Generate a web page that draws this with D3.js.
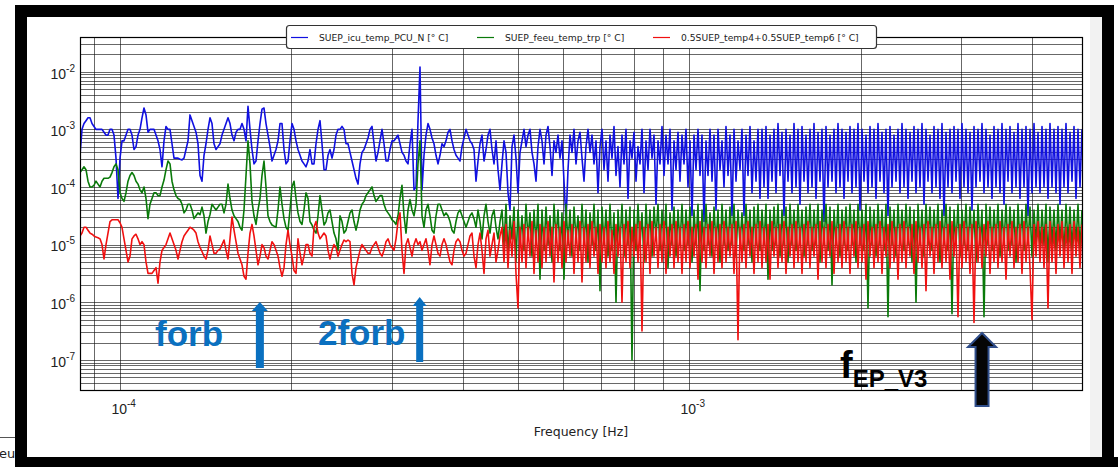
<!DOCTYPE html>
<html>
<head>
<meta charset="utf-8">
<title>Temperature PSD</title>
<style>
  html, body { margin: 0; padding: 0; background: #fff; }
  svg { display: block; }
</style>
</head>
<body>
<div id="chart"></div>
<script src="https://cdn.jsdelivr.net/npm/d3@7/dist/d3.min.js"></script>
<script>
(function(d3) {
  'use strict';

  // frequency bins (Hz): log spaced over the plotted band
  var fMin = 8.5e-5, fMax = 4.9e-3, nBins = 502;

  var seriesNames = ['SUEP_icu_temp_PCU_N [\u00b0 C]', 'SUEP_feeu_temp_trp [\u00b0 C]',
    '0.5SUEP_temp4+0.5SUEP_temp6 [\u00b0 C]'];
  var seriesColors = ['#1010e0', '#0a7a0a', '#f01010'];

  // log10 of the PSD, one value per bin
  var icuPCU = [
    -3.45,-3.0,-2.9,-2.85,-2.8,-2.8,-2.9,-2.95,-3.0,-3.0,
    -3.0,-3.0,-3.05,-3.1,-3.1,-3.0,-3.0,-3.1,-3.5,-4.2,
    -3.5,-3.2,-3.2,-3.1,-3.0,-3.0,-3.1,-3.35,-3.3,-3.1,
    -3.0,-2.8,-2.63,-2.75,-3.05,-3.0,-3.0,-3.0,-3.1,-3.2,
    -3.35,-3.65,-3.2,-2.95,-3.0,-3.0,-3.25,-3.5,-3.5,-3.5,
    -3.52,-3.53,-3.5,-3.35,-3.2,-2.75,-2.85,-2.95,-3.05,-3.25,
    -3.8,-3.9,-3.45,-3.25,-3.0,-2.8,-2.9,-3.25,-3.35,-3.3,
    -3.25,-3.1,-3.0,-2.9,-2.8,-2.9,-3.1,-3.2,-3.05,-3.0,
    -3.0,-2.9,-3.0,-3.2,-2.6,-3.0,-3.35,-3.6,-3.55,-3.2,
    -2.9,-2.65,-2.63,-2.9,-3.1,-3.3,-3.55,-3.45,-3.35,-3.2,
    -2.9,-2.9,-3.35,-3.6,-3.55,-3.2,-2.9,-3.0,-3.2,-3.35,
    -3.45,-3.55,-3.6,-3.65,-3.55,-3.35,-3.6,-3.6,-3.25,-3.0,
    -2.85,-3.25,-3.7,-3.7,-3.45,-3.35,-3.5,-3.35,-3.1,-3.0,
    -3.0,-2.95,-3.0,-3.25,-3.25,-3.4,-3.55,-3.7,-3.85,-3.95,
    -3.6,-3.4,-3.35,-3.25,-3.15,-3.0,-2.95,-3.25,-3.55,-3.4,
    -3.2,-3.0,-3.25,-3.55,-3.55,-3.35,-3.2,-3.2,-3.15,-3.1,
    -3.25,-3.4,-3.45,-3.55,-3.6,-3.25,-3.0,-4.05,-4.0,-2.85,
    -1.92,-4.05,-3.45,-3.1,-2.9,-3.0,-3.15,-3.25,-3.45,-3.6,
    -3.45,-3.25,-3.3,-3.2,-3.05,-3.0,-3.2,-3.35,-3.45,-3.5,
    -3.55,-3.3,-3.15,-3.0,-3.1,-3.2,-3.25,-3.35,-3.9,-3.55,
    -3.25,-3.1,-3.55,-3.35,-3.1,-3.0,-3.35,-3.6,-3.2,-3.7,
    -4.05,
    -3.6,-3.2,-3.4,-4.1,-4.4,-3.3,-3.1,-3.5,-4.1,-3.4,
    -3.2,-3.0,-3.3,-3.1,-3.0,-3.4,-3.6,-3.9,-3.3,-3.0,
    -3.2,-3.6,-3.1,-2.95,-3.3,-3.8,-3.2,-3.4,-3.1,-3.5,
    -3.2,-3.9,-4.6,-3.7,-3.1,-3.4,-3.0,-3.6,-3.2,-3.05,
    -3.5,-3.9,-3.3,-3.0,-3.4,-3.1,-3.6,-3.2,-4.1,-3.3,
    -3.0,-3.7,-3.2,-3.9,-3.1,-3.5,-2.95,-3.8,-3.3,-4.0,
    -3.1,-3.6,-3.0,-4.2,-3.2,-3.5,-3.05,-3.9,-3.3,-3.6,
    -3.0,-4.1,-3.2,-3.7,-3.0,-3.5,-3.1,-4.3,-3.2,-3.6,
    -2.95,-3.8,-3.1,-3.6,-3.0,-4.4,-3.2,-3.7,-3.05,-3.9,
    -3.1,-3.6,-3.0,-4.0,-3.2,-4.5,-3.1,-3.7,-3.0,-3.8,
    -3.1,-4.6,-3.2,-3.8,-3.0,-3.9,-3.1,-4.4,-3.0,-3.7,
    -3.2,-4.0,-2.95,-3.8,-3.1,-4.5,-3.0,-3.9,-3.2,-3.7,
    -3.0,-4.5,-3.1,-3.8,-2.95,-4.1,-3.2,-3.9,-3.0,-4.2,
    -3.0,-4.0,-2.95,-4.2,-3.1,-3.9,-3.0,-4.1,-2.9,-3.8,
    -3.05,-4.5,-3.0,-3.9,-3.1,-4.1,-2.9,-4.0,-3.0,-4.3,
    -2.95,-3.9,-3.1,-4.1,-3.0,-4.0,-2.9,-4.2,-3.05,-3.9,
    -3.0,-4.6,-2.95,-4.0,-3.1,-3.9,-3.0,-4.1,-2.9,-4.0,
    -3.0,-4.2,-3.05,-3.9,-2.95,-4.1,-3.0,-4.0,-2.9,-4.4,
    -3.0,-3.9,-3.1,-4.1,-2.95,-4.0,-3.0,-4.2,-2.9,-3.9,
    -3.05,-4.1,-3.0,-4.5,-2.95,-4.0,-3.1,-3.9,-3.0,-4.1,
    -2.9,-4.0,-3.0,-4.2,-3.05,-3.9,-2.95,-4.1,-3.0,-4.0,
    -2.9,-4.3,-3.0,-3.9,-3.1,-4.1,-2.95,-4.0,-3.0,-4.2,
    -2.9,-4.5,-3.05,-4.0,-3.0,-4.1,-2.95,-3.9,-3.0,-4.2,
    -2.9,-4.0,-3.0,-4.1,-3.05,-4.4,-2.95,-4.0,-3.0,-3.9,
    -2.9,-4.1,-3.0,-4.0,-3.1,-4.2,-2.95,-4.0,-3.0,-4.1,
    -2.9,-4.3,-3.0,-3.9,-2.95,-4.1,-3.05,-4.0,-2.9,-4.2,
    -3.0,-4.0,-2.95,-4.5,-3.0,-4.1,-2.9,-4.0,-3.05,-4.1,
    -2.95,-4.0,-3.0,-4.2,-2.9,-4.0,-3.0,-4.1,-2.95,-4.3,
    -3.0,-4.0,-2.9,-4.1,-3.05,-3.9,-2.95,-4.2,-3.0,-4.0,
    -3.0
  ];

  var feeuTrp = [
    -3.75,-3.7,-3.65,-3.7,-3.9,-4.0,-4.0,-3.97,-3.9,-3.95,
    -4.0,-3.9,-3.85,-3.85,-3.85,-3.83,-3.75,-3.65,-3.6,-3.7,
    -4.1,-4.2,-4.25,-4.1,-3.9,-3.8,-3.75,-3.8,-3.9,-3.95,
    -4.05,-4.1,-4.0,-4.2,-4.55,-4.3,-4.2,-4.1,-4.1,-4.15,
    -4.15,-4.0,-3.88,-3.7,-3.55,-3.6,-3.9,-4.05,-4.15,-4.2,
    -4.22,-4.3,-4.45,-4.4,-4.3,-4.3,-4.4,-4.55,-4.5,-4.45,
    -4.48,-4.35,-4.5,-4.8,-4.6,-4.48,-4.3,-4.35,-4.4,-4.35,
    -4.3,-4.3,-4.45,-4.3,-3.95,-4.2,-4.4,-4.5,-4.55,-4.6,
    -4.7,-4.75,-4.4,-3.8,-3.2,-3.6,-4.25,-4.5,-4.65,-4.4,
    -4.2,-3.8,-3.55,-4.0,-4.5,-4.6,-4.66,-4.68,-4.7,-4.4,
    -4.0,-4.3,-4.55,-4.7,-4.75,-4.4,-4.0,-3.9,-4.2,-4.45,
    -4.6,-4.65,-4.4,-4.1,-4.2,-4.6,-4.66,-4.75,-4.8,-4.5,
    -4.15,-4.4,-4.66,-4.6,-4.45,-4.4,-4.6,-4.8,-4.9,-5.1,
    -4.5,-4.6,-4.8,-4.75,-4.6,-4.45,-4.4,-4.6,-4.75,-4.6,
    -4.4,-4.3,-4.25,-4.15,-4.1,-4.05,-4.0,-4.15,-4.25,-4.2,
    -4.15,-4.15,-4.3,-4.4,-4.45,-4.5,-4.57,-4.6,-4.65,-4.5,
    -4.2,-3.97,-4.5,-4.8,-4.4,-4.22,-4.4,-4.5,-4.3,-3.6,
    -3.2,-4.5,-4.7,-4.4,-4.3,-4.5,-4.75,-4.8,-4.5,-4.3,
    -4.3,-4.4,-4.5,-4.45,-4.5,-4.6,-4.75,-4.8,-4.6,-4.45,
    -4.4,-4.5,-4.6,-4.7,-4.6,-4.5,-4.45,-4.55,-4.7,-4.4,
    -4.6,-4.9,-4.5,-4.3,-4.6,-4.8,-4.5,-4.4,-4.7,-4.9,
    -4.6,
    -4.4,-5.0,-4.3,-5.2,-4.5,-4.9,-4.35,-5.3,-4.4,-5.0,
    -4.5,-5.1,-4.3,-4.9,-4.45,-5.2,-4.4,-5.0,-4.3,-5.6,
    -4.4,-5.1,-4.35,-5.0,-4.5,-5.3,-4.3,-4.9,-4.4,-5.1,
    -4.45,-5.6,-4.3,-5.0,-4.4,-5.2,-4.35,-4.9,-4.5,-5.1,
    -4.3,-5.0,-4.4,-5.3,-4.45,-5.0,-4.3,-5.1,-4.4,-5.8,
    -4.35,-5.0,-4.4,-5.2,-4.3,-5.1,-4.45,-6.0,-4.4,-5.0,
    -4.3,-5.2,-4.4,-5.0,-4.35,-7.0,-4.4,-5.1,-4.3,-5.0,
    -4.45,-5.3,-4.3,-5.0,-4.4,-5.2,-4.35,-4.9,-4.3,-5.1,
    -4.4,-5.0,-4.3,-5.4,-4.45,-5.0,-4.35,-5.2,-4.4,-5.0,
    -4.3,-5.1,-4.4,-5.0,-4.35,-5.3,-4.4,-5.0,-4.3,-5.8,
    -4.4,-5.1,-4.3,-5.0,-4.45,-5.2,-4.35,-5.0,-4.4,-5.3,
    -4.3,-5.0,-4.4,-5.1,-4.35,-5.0,-4.3,-5.2,-4.4,-5.0,
    -4.45,-5.1,-4.3,-5.0,-4.4,-5.3,-4.35,-5.0,-4.3,-5.1,
    -4.4,-5.0,-4.3,-5.6,-4.4,-5.1,-4.35,-5.0,-4.3,-5.2,
    -4.4,-5.0,-4.35,-5.3,-4.3,-5.0,-4.4,-5.1,-4.3,-5.0,
    -4.4,-5.2,-4.35,-5.0,-4.3,-5.1,-4.4,-5.0,-4.3,-5.3,
    -4.4,-5.0,-4.3,-5.1,-4.35,-5.7,-4.4,-5.0,-4.3,-5.2,
    -4.4,-5.0,-4.35,-5.1,-4.3,-5.0,-4.4,-5.3,-4.3,-5.0,
    -4.4,-5.1,-4.3,-6.1,-4.35,-5.0,-4.4,-5.2,-4.3,-5.0,
    -4.4,-5.1,-4.3,-6.25,-4.35,-5.0,-4.4,-5.2,-4.3,-5.0,
    -4.4,-5.1,-4.3,-5.0,-4.35,-5.3,-4.4,-6.0,-4.3,-5.0,
    -4.4,-5.2,-4.3,-5.0,-4.35,-5.1,-4.4,-5.0,-4.3,-5.3,
    -4.4,-5.0,-4.3,-5.1,-4.35,-6.2,-4.4,-5.0,-4.3,-5.2,
    -4.4,-5.0,-4.3,-5.1,-4.35,-5.0,-4.4,-5.3,-4.3,-5.0,
    -4.4,-6.25,-4.3,-5.0,-4.35,-5.1,-4.4,-5.0,-4.3,-5.2,
    -4.4,-5.0,-4.3,-5.1,-4.35,-5.0,-4.4,-5.3,-4.3,-5.0,
    -4.4,-5.1,-4.3,-5.0,-4.35,-5.2,-4.4,-5.0,-4.3,-5.1,
    -4.4,-5.0,-4.3,-5.3,-4.35,-5.0,-4.4,-5.1,-4.3,-5.0,
    -4.4,-5.2,-4.3,-5.0,-4.35,-5.1,-4.4,-5.0,-4.3,-5.1,
    -4.4
  ];

  var temp46 = [
    -4.85,-4.8,-4.7,-4.7,-4.75,-4.8,-4.82,-4.85,-4.87,-4.88,
    -4.9,-5.0,-5.25,-5.0,-4.8,-4.6,-4.57,-4.57,-4.57,-4.57,
    -4.62,-4.7,-4.9,-5.1,-5.3,-5.2,-4.9,-4.85,-4.82,-4.9,
    -5.0,-4.95,-5.0,-5.3,-5.5,-5.5,-5.5,-5.45,-5.4,-5.67,
    -5.3,-5.1,-5.05,-5.0,-4.9,-4.8,-4.9,-5.0,-5.1,-5.25,
    -5.1,-4.95,-4.85,-4.8,-4.75,-4.7,-4.72,-4.75,-4.8,-4.95,
    -5.05,-5.12,-5.2,-5.25,-5.1,-4.85,-5.0,-5.15,-5.15,-5.1,
    -5.08,-5.0,-4.92,-5.1,-5.25,-4.9,-4.52,-4.75,-4.95,-5.15,
    -5.25,-5.35,-5.55,-5.6,-5.15,-4.8,-4.65,-4.85,-5.1,-5.35,
    -5.2,-5.0,-5.05,-5.2,-5.25,-5.1,-4.95,-5.0,-5.1,-5.2,
    -5.4,-5.55,-5.4,-5.0,-4.75,-5.0,-5.2,-5.45,-5.5,-4.9,
    -5.15,-5.35,-5.2,-5.0,-5.0,-5.15,-5.2,-4.7,-4.6,-4.8,
    -4.9,-4.85,-4.8,-4.85,-5.1,-5.25,-5.1,-5.0,-5.05,-5.2,
    -5.1,-5.0,-4.92,-4.95,-4.92,-4.95,-5.5,-5.7,-5.4,-5.25,
    -5.1,-5.0,-5.05,-5.1,-5.15,-5.15,-5.05,-5.0,-4.95,-5.05,
    -5.15,-5.2,-5.1,-4.95,-4.9,-5.0,-5.05,-5.1,-4.9,-4.6,
    -4.45,-5.1,-5.5,-5.0,-4.9,-5.05,-5.2,-5.0,-4.9,-5.0,
    -4.95,-5.1,-5.0,-4.9,-5.1,-5.35,-5.0,-4.85,-5.0,-5.15,
    -5.2,-5.0,-4.9,-5.0,-5.15,-5.3,-5.35,-5.1,-4.95,-4.9,
    -4.95,-5.1,-5.2,-5.15,-5.0,-4.85,-4.8,-5.2,-5.4,-5.0,
    -4.8,-5.1,-5.5,-4.9,-4.75,-5.2,-5.0,-4.8,-5.3,-5.1,
    -4.85,
    -4.7,-5.3,-4.65,-5.4,-4.75,-5.2,-4.6,-5.5,-6.1,-4.7,
    -5.3,-4.65,-5.4,-4.7,-5.2,-4.6,-5.5,-4.75,-5.3,-4.65,
    -5.4,-4.7,-5.3,-4.6,-5.2,-4.7,-5.65,-4.65,-5.3,-4.7,
    -5.4,-4.6,-5.3,-4.75,-5.2,-4.65,-5.5,-4.7,-5.3,-4.6,
    -5.65,-4.7,-5.3,-4.65,-5.4,-4.6,-5.2,-4.7,-5.5,-4.65,
    -5.3,-4.7,-5.4,-4.6,-5.3,-4.75,-5.5,-4.65,-5.2,-4.7,
    -6.0,-4.65,-5.3,-4.6,-5.4,-4.7,-5.2,-4.65,-5.3,-4.6,
    -6.5,-4.7,-5.3,-4.65,-5.5,-4.6,-5.2,-4.7,-5.4,-4.65,
    -5.3,-4.6,-5.5,-4.7,-5.2,-4.65,-5.4,-4.6,-5.3,-4.7,
    -5.5,-4.65,-5.3,-4.6,-5.4,-4.7,-5.2,-4.65,-5.6,-4.6,
    -5.3,-4.7,-5.4,-4.65,-5.2,-4.6,-5.5,-4.7,-5.3,-4.65,
    -5.4,-4.6,-5.3,-4.7,-5.2,-4.65,-5.5,-4.6,-6.65,-4.7,
    -5.3,-4.65,-5.4,-4.6,-5.2,-4.7,-5.5,-4.65,-5.3,-4.6,
    -5.4,-4.7,-5.3,-4.65,-5.6,-4.6,-5.2,-4.7,-5.4,-4.65,
    -5.3,-4.6,-5.5,-4.7,-5.2,-4.65,-5.4,-4.6,-5.3,-4.7,
    -5.5,-4.65,-5.3,-4.6,-5.4,-4.7,-5.2,-4.65,-5.6,-4.6,
    -5.3,-4.7,-5.4,-4.65,-5.2,-4.6,-5.5,-4.7,-5.3,-4.65,
    -5.4,-4.6,-5.3,-4.7,-5.5,-4.65,-5.2,-4.6,-5.4,-4.7,
    -5.3,-4.65,-5.6,-4.6,-5.2,-4.7,-5.4,-4.65,-5.3,-4.6,
    -5.5,-4.7,-5.2,-4.65,-5.4,-4.6,-5.3,-4.7,-5.6,-4.65,
    -5.3,-4.6,-5.4,-4.7,-5.2,-4.65,-5.5,-4.6,-5.3,-4.7,
    -5.4,-4.65,-5.8,-4.6,-5.2,-4.7,-5.5,-4.65,-5.3,-4.6,
    -5.4,-4.7,-5.3,-4.65,-5.6,-4.6,-5.2,-4.7,-6.25,-4.65,
    -5.4,-4.6,-5.3,-4.7,-5.5,-4.65,-6.35,-4.6,-5.3,-4.7,
    -5.4,-4.65,-5.2,-4.6,-5.5,-4.7,-5.3,-4.65,-5.4,-4.6,
    -5.3,-4.7,-5.6,-4.65,-5.2,-4.6,-5.4,-4.7,-5.3,-4.65,
    -5.5,-4.6,-5.3,-4.7,-5.4,-6.3,-4.65,-5.2,-4.6,-5.3,
    -4.7,-5.4,-4.65,-6.1,-4.6,-5.3,-4.7,-5.5,-4.65,-5.2,
    -4.6,-5.4,-4.7,-5.3,-4.65,-5.5,-4.6,-5.2,-4.7,-5.4,
    -4.65
  ];

  var seriesLog = [icuPCU, feeuTrp, temp46];

  // axis ticks
  var xDecades = [1e-4, 1e-3];
  var yDecades = [1e-7, 1e-6, 1e-5, 1e-4, 1e-3, 1e-2];

  // annotation frequencies (Hz)
  var fOrb = 1.76e-4, f2Orb = 3.36e-4, fEP = 3.27e-3;

  var width = 1118, height = 467;
  var plot = { left: 80, right: 1082, top: 37, bottom: 390 };

  var freqs = d3.range(nBins).map(function(i) {
    return fMin * Math.pow(fMax / fMin, i / (nBins - 1));
  });

  var x = d3.scaleLog().domain([fMin, fMax]).range([plot.left, plot.right]);
  var y = d3.scaleLog().domain([3e-8, 4e-2]).range([plot.bottom, plot.top]);

  var svg = d3.select('#chart').append('svg')
    .attr('width', width).attr('height', height)
    .style('font-family', '"DejaVu Sans", sans-serif');

  svg.append('rect').attr('width', width).attr('height', height).attr('fill', '#fff');

  // grid: majors + minors on both log axes
  function minorTicks(lo, hi) {
    var out = [];
    for (var e = Math.floor(Math.log10(lo)); e <= Math.ceil(Math.log10(hi)); e++) {
      for (var m = 1; m <= 9; m++) {
        var v = m * Math.pow(10, e);
        if (v > lo && v < hi) out.push(v);
      }
    }
    return out;
  }
  var grid = svg.append('g').attr('stroke', '#111').attr('stroke-width', 0.8).attr('stroke-opacity', 0.8);
  grid.selectAll('line.gx').data(minorTicks(fMin, fMax)).enter().append('line')
    .attr('x1', function(d) { return Math.round(x(d)) + 0.5; })
    .attr('x2', function(d) { return Math.round(x(d)) + 0.5; })
    .attr('y1', plot.top).attr('y2', plot.bottom);
  grid.selectAll('line.gy').data(minorTicks(3e-8, 4e-2)).enter().append('line')
    .attr('y1', function(d) { return Math.round(y(d)) + 0.5; })
    .attr('y2', function(d) { return Math.round(y(d)) + 0.5; })
    .attr('x1', plot.left).attr('x2', plot.right);

  // data
  svg.append('clipPath').attr('id', 'clip').append('rect')
    .attr('x', plot.left).attr('y', plot.top)
    .attr('width', plot.right - plot.left).attr('height', plot.bottom - plot.top);

  var line = d3.line()
    .x(function(d) { return x(d.f); })
    .y(function(d) { return y(d.v); });

  svg.append('g').attr('clip-path', 'url(#clip)')
    .selectAll('path').data(seriesLog).enter().append('path')
    .attr('fill', 'none')
    .attr('stroke', function(d, i) { return seriesColors[i]; })
    .attr('stroke-width', 1.6)
    .attr('stroke-linejoin', 'round')
    .attr('d', function(vals) {
      return line(vals.map(function(v, i) { return { f: freqs[i], v: Math.pow(10, v) }; }));
    });

  svg.append('rect')
    .attr('x', plot.left + 0.5).attr('y', plot.top + 0.5)
    .attr('width', plot.right - plot.left).attr('height', plot.bottom - plot.top)
    .attr('fill', 'none').attr('stroke', '#000').attr('stroke-width', 1.2);

  // axes with 10^n labels
  function powerLabel(sel) {
    sel.each(function(d) {
      var t = d3.select(this).text(null);
      t.append('tspan').text('10');
      t.append('tspan').attr('dy', -7).attr('font-size', 10).text(Math.round(Math.log10(d)));
    });
  }
  var gx = svg.append('g').attr('transform', 'translate(0,' + plot.bottom + ')')
    .call(d3.axisBottom(x).tickValues(xDecades).tickSize(0).tickPadding(14));
  gx.select('.domain').remove();
  gx.selectAll('.tick text').attr('font-size', 14).attr('font-family', null).attr('fill', '#222')
    .attr('dx', 3).call(powerLabel);

  var gy = svg.append('g').attr('transform', 'translate(' + plot.left + ',0)')
    .call(d3.axisLeft(y).tickValues(yDecades).tickSize(0).tickPadding(5));
  gy.select('.domain').remove();
  gy.selectAll('.tick text').attr('font-size', 14).attr('font-family', null).attr('fill', '#222')
    .attr('dy', '0.45em').call(powerLabel);

  svg.append('text').attr('x', (plot.left + plot.right) / 2).attr('y', 436)
    .attr('text-anchor', 'middle').attr('font-size', 12.5).attr('fill', '#222')
    .text('Frequency [Hz]');

  // legend
  var legend = svg.append('g');
  legend.append('rect').attr('x', 286.5).attr('y', 25.5).attr('width', 590).attr('height', 23)
    .attr('rx', 3).attr('fill', '#fff').attr('stroke', '#333').attr('stroke-width', 1.2);
  var legX = [291, 477, 653];
  seriesNames.forEach(function(name, i) {
    legend.append('line').attr('x1', legX[i]).attr('x2', legX[i] + 17)
      .attr('y1', 37.5).attr('y2', 37.5).attr('stroke', seriesColors[i]).attr('stroke-width', 1.2);
    legend.append('text').attr('x', legX[i] + 28).attr('y', 41)
      .attr('font-size', 9.2).attr('fill', '#222').text(name);
  });

  // annotations
  var ann = svg.append('g').style('font-family', '"Liberation Sans", Arial, sans-serif')
    .attr('font-weight', 'bold');
  function upArrow(cx, tip, bottom, shaftW, headW, headH) {
    return 'M' + (cx - shaftW / 2) + ',' + bottom +
      'V' + (tip + headH) + 'H' + (cx - headW / 2) + 'L' + cx + ',' + tip +
      'L' + (cx + headW / 2) + ',' + (tip + headH) + 'H' + (cx + shaftW / 2) + 'V' + bottom + 'Z';
  }
  ann.append('path').attr('d', upArrow(x(fOrb), 302, 368, 8, 16, 9)).attr('fill', '#0a70c0');
  ann.append('path').attr('d', upArrow(x(f2Orb), 297, 362, 7, 14, 9)).attr('fill', '#0a70c0');
  ann.append('text').attr('x', 155).attr('y', 346).attr('font-size', 35).attr('fill', '#0a70c0').text('forb');
  ann.append('text').attr('x', 318).attr('y', 345).attr('font-size', 35).attr('fill', '#0a70c0').text('2forb');

  ann.append('path').attr('d', upArrow(x(fEP), 333, 406, 13, 28, 14))
    .attr('fill', '#050505').attr('stroke', '#2f4d8a').attr('stroke-width', 2);
  var fLab = ann.append('text').attr('x', 840).attr('y', 378).attr('fill', '#000');
  fLab.append('tspan').attr('font-size', 38).text('f');
  fLab.append('tspan').attr('font-size', 24).attr('dy', 9).text('EP_V3');

  // surrounding frame of the screenshot
  var frame = svg.append('g').attr('fill', '#000');
  frame.append('rect').attr('x', 1090).attr('y', 17).attr('width', 12).attr('height', 440).attr('fill', '#f2f2f2');
  frame.append('rect').attr('x', 15).attr('y', 5).attr('width', 1099).attr('height', 12);
  frame.append('rect').attr('x', 15).attr('y', 5).attr('width', 12).attr('height', 462);
  frame.append('rect').attr('x', 1102).attr('y', 5).attr('width', 12).attr('height', 462);
  frame.append('rect').attr('x', 15).attr('y', 457).attr('width', 1103).attr('height', 10);
  svg.append('line').attr('x1', 0).attr('x2', 15).attr('y1', 437.5).attr('y2', 437.5)
    .attr('stroke', '#555').attr('stroke-width', 1);
  svg.append('text').attr('x', -1).attr('y', 458).attr('font-size', 13).attr('fill', '#222').text('eu');
})(window.d3);
</script>
</body>
</html>
